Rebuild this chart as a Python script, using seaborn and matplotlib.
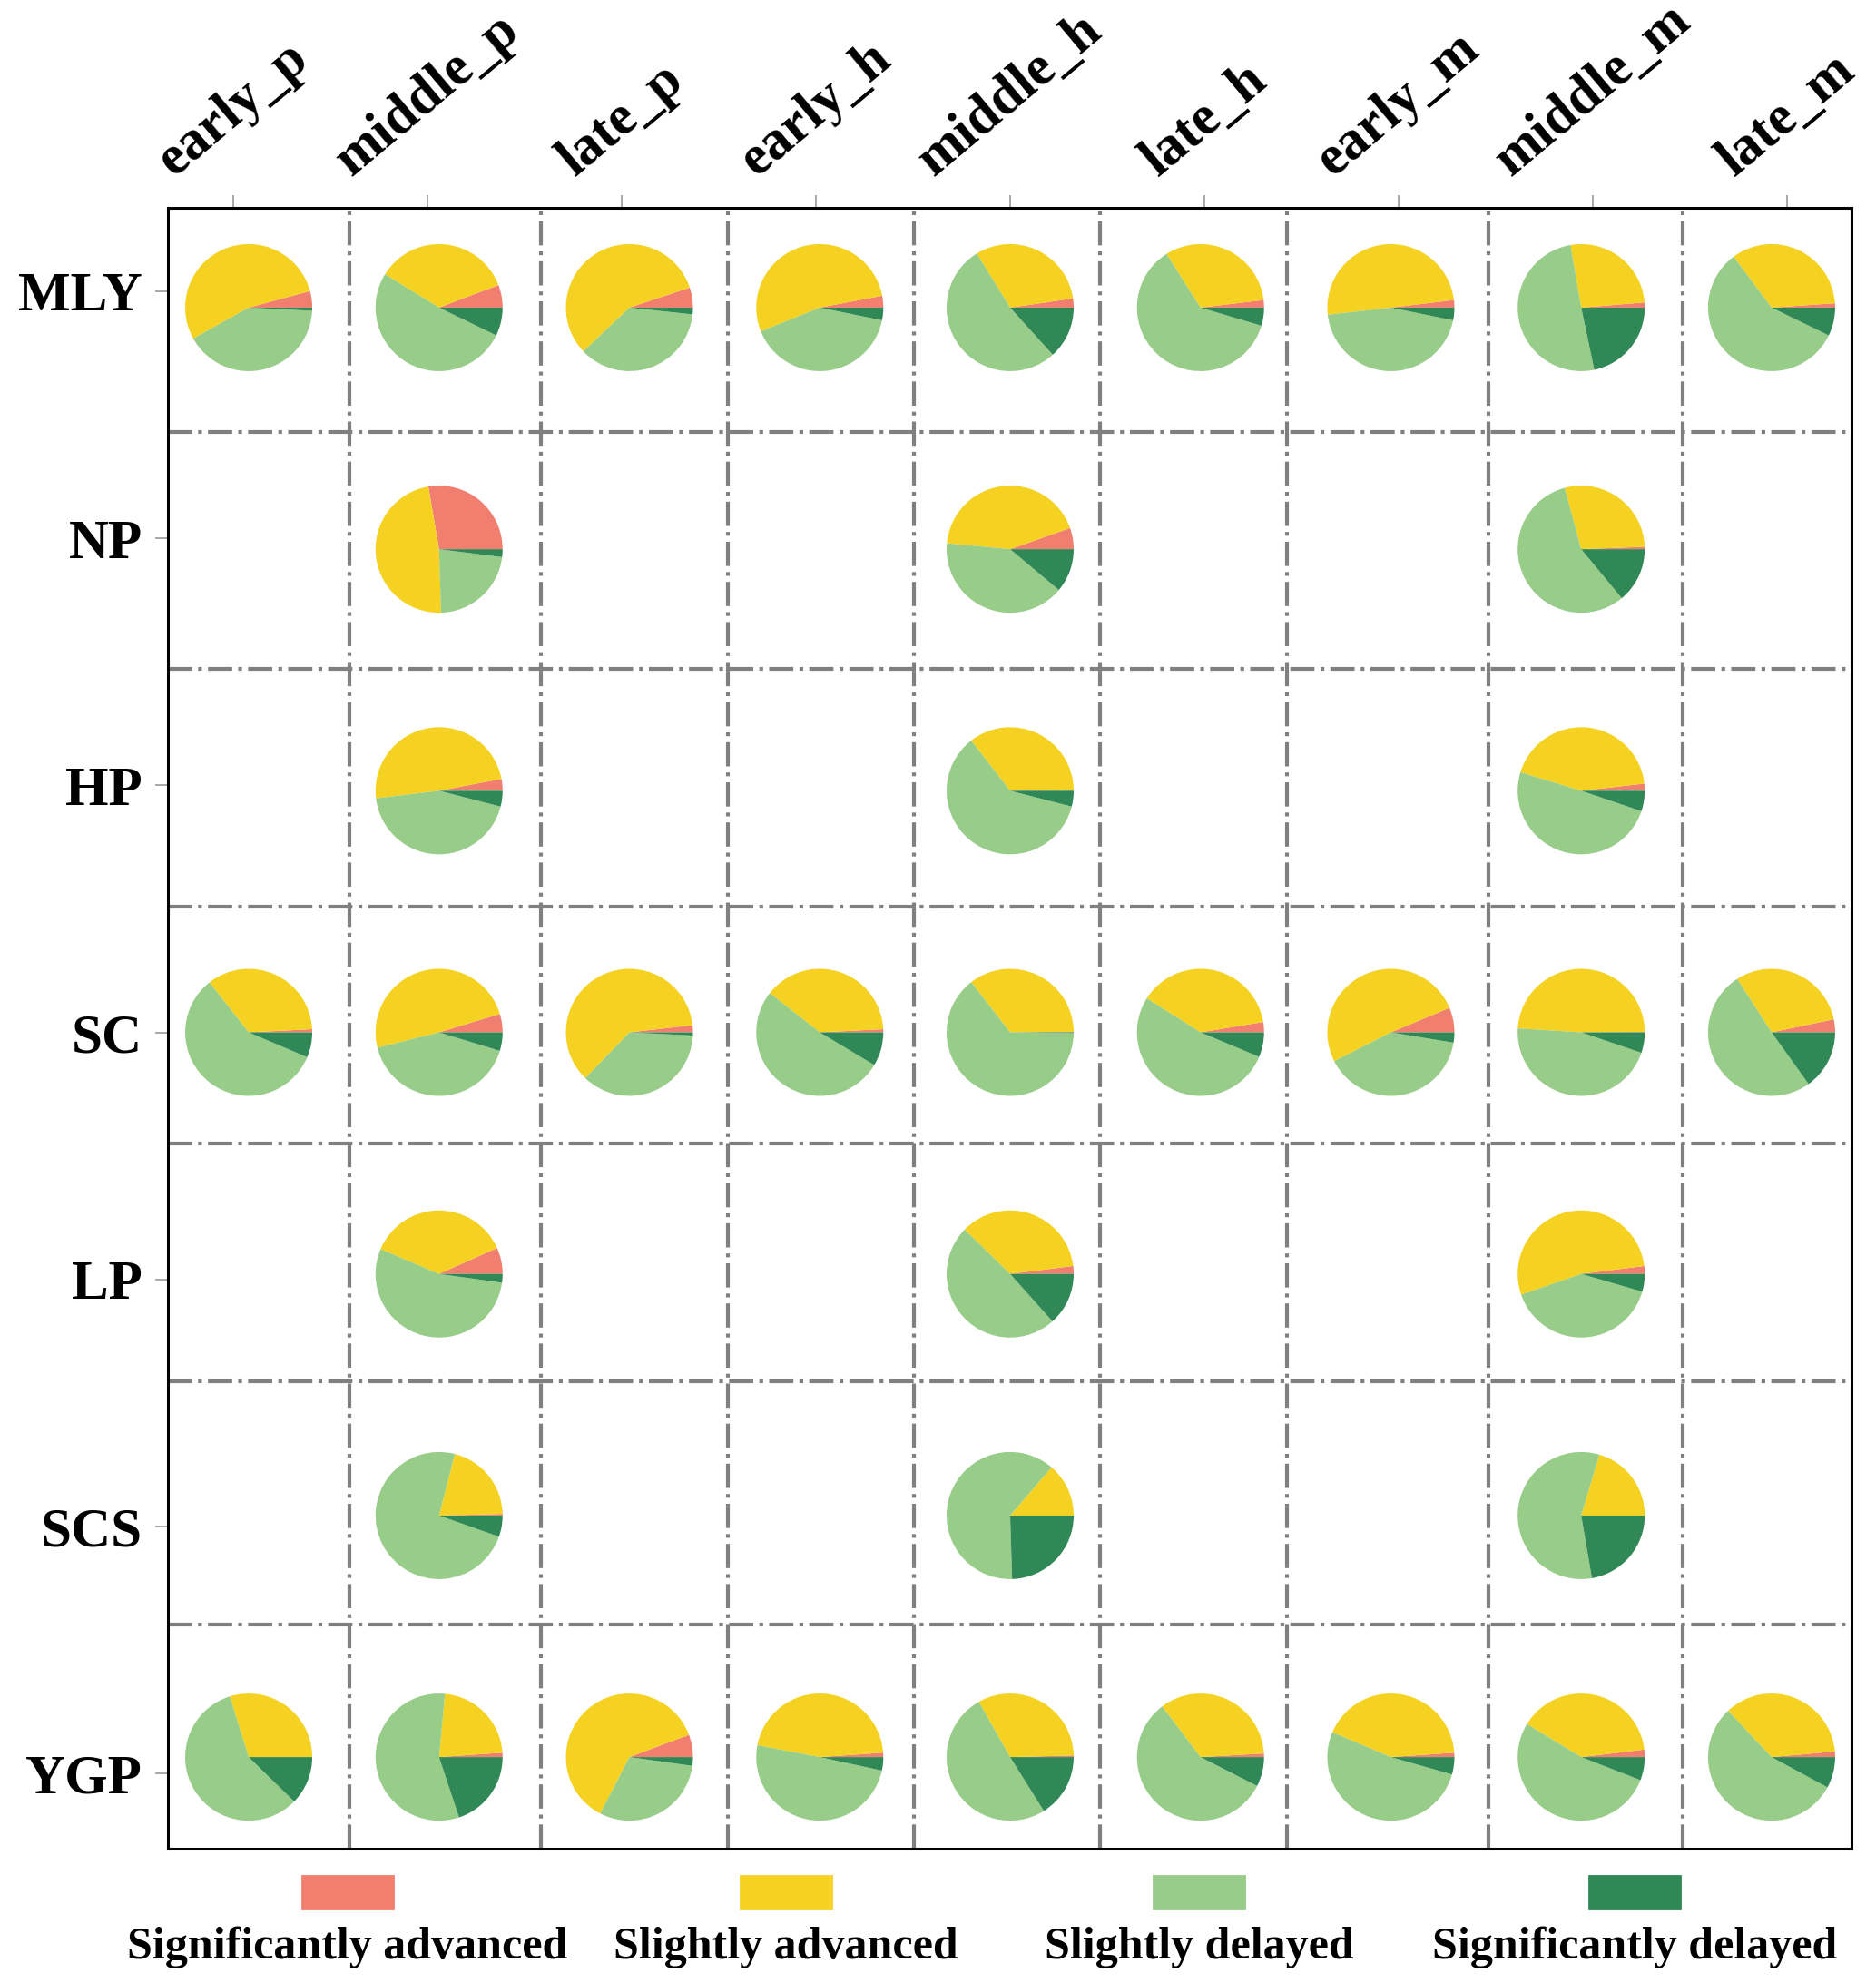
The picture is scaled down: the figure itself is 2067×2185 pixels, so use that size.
import matplotlib
matplotlib.use('Agg')
import matplotlib.pyplot as plt
from matplotlib.patches import Rectangle
import seaborn as sns

# columns / rows of the grid
periods = ['early_p', 'middle_p', 'late_p', 'early_h', 'middle_h',
           'late_h', 'early_m', 'middle_m', 'late_m']
regions = ['MLY', 'NP', 'HP', 'SC', 'LP', 'SCS', 'YGP']
categories = ['Significantly advanced', 'Slightly advanced',
              'Slightly delayed', 'Significantly delayed']
colors = ['#F17F70', '#F5D221', '#98CC89', '#2F8855']

# share (%) of each class, one row per region, None = no pie
sig_adv = [
    [4.2, 5.8, 5.1, 3.0, 2.3, 1.9, 1.9, 1.3, 1.1],
    [None, 27.7, None, None, 5.4, None, None, 0.6, None],
    [None, 3.0, None, None, 0.3, None, None, 1.8, None],
    [0.8, 4.7, 1.8, 0.8, 0.1, 2.6, 6.3, 0.1, 3.3],
    [None, 6.7, None, None, 2.0, None, None, 2.0, None],
    [None, 0.4, None, None, 0.0, None, None, 0.0, None],
    [0.0, 1.1, 5.7, 1.1, 0.4, 0.9, 1.1, 1.9, 1.4],
]
slight_adv = [
    [53.9, 35.4, 57.0, 53.1, 31.5, 32.1, 49.9, 26.4, 34.1],
    [None, 47.8, None, None, 43.1, None, None, 28.6, None],
    [None, 48.9, None, None, 35.2, None, None, 43.5, None],
    [34.8, 49.2, 61.0, 38.6, 35.4, 38.4, 51.2, 48.9, 30.8],
    [None, 36.9, None, None, 35.7, None, None, 53.3, None],
    [None, 20.6, None, None, 13.7, None, None, 20.4, None],
    [29.8, 22.4, 61.7, 45.9, 32.8, 34.4, 42.5, 39.4, 35.6],
]
slight_del = [
    [41.1, 51.6, 36.2, 40.7, 52.9, 61.4, 45.0, 50.6, 57.6],
    [None, 22.5, None, None, 40.4, None, None, 56.8, None],
    [None, 44.1, None, None, 60.5, None, None, 49.5, None],
    [58.0, 41.4, 36.4, 52.0, 64.3, 52.7, 39.9, 45.8, 50.8],
    [None, 54.2, None, None, 48.9, None, None, 40.2, None],
    [None, 73.6, None, None, 61.8, None, None, 57.3, None],
    [57.9, 56.6, 30.4, 49.6, 50.7, 57.2, 52.0, 52.8, 55.1],
]
sig_del = [
    [0.8, 7.2, 1.7, 3.2, 13.3, 4.6, 3.2, 21.7, 7.2],
    [None, 2.0, None, None, 11.1, None, None, 14.0, None],
    [None, 4.0, None, None, 4.0, None, None, 5.2, None],
    [6.4, 4.7, 0.8, 8.6, 0.2, 6.3, 2.6, 5.2, 15.1],
    [None, 2.2, None, None, 13.4, None, None, 4.5, None],
    [None, 5.4, None, None, 24.5, None, None, 22.3, None],
    [12.3, 19.9, 2.2, 3.4, 16.1, 7.5, 4.4, 5.9, 7.9],
]

# separators between the cells (data units)
col_seps = [0.599, 1.585, 2.547, 3.505, 4.463, 5.426, 6.463, 7.463]
row_seps = [0.569, 1.528, 2.491, 3.450, 4.412, 5.397]

sns.set_style('white')
plt.rcParams['font.family'] = ['Liberation Serif', 'DejaVu Serif']
plt.rcParams['font.weight'] = 'bold'
plt.rcParams['text.color'] = 'black'

fig = plt.figure(figsize=(10.335, 10.925), dpi=200)
ax = fig.add_axes([0.0895, 0.0677, 0.8975, 0.8275])
ax.set_xlim(-0.336, 8.332)
ax.set_ylim(6.305, -0.338)

for x in col_seps:
    ax.axvline(x, color='#808080', ls='-.', lw=1.5, zorder=1)
for y in row_seps:
    ax.axhline(y, color='#808080', ls='-.', lw=1.5, zorder=1)

ax.xaxis.tick_top()
ax.set_xticks(range(len(periods)))
ax.set_xticklabels(periods, rotation=40, fontsize=22, fontweight='bold')
ax.set_yticks(range(len(regions)))
ax.set_yticklabels(regions, fontsize=22, fontweight='bold')
ax.tick_params(axis='x', top=True, bottom=False, length=5, width=0.6,
               color='#999999', labelcolor='black', pad=3.5)
ax.tick_params(axis='y', left=True, length=5, width=0.6,
               color='#999999', labelcolor='black', pad=5)
for sp in ax.spines.values():
    sp.set_visible(True)
    sp.set_color('black')
    sp.set_linewidth(1.1)

# pies sit on a slightly shrunk grid around the central cell
to_axes = ax.transData + ax.transAxes.inverted()
pw, ph = 140 / 1855, 140 / 1808
for j, region in enumerate(regions):
    for i, period in enumerate(periods):
        if sig_adv[j][i] is None:
            continue
        vals = [sig_adv[j][i], slight_adv[j][i], slight_del[j][i], sig_del[j][i]]
        cx = 4 + 0.98 * (i - 4)
        cy = 3 + 0.978 * (j - 3)
        fx, fy = to_axes.transform((cx, cy))
        pax = ax.inset_axes([fx - pw / 2, fy - ph / 2, pw, ph])
        pax.pie(vals, colors=colors, startangle=0, counterclock=True,
                wedgeprops={'linewidth': 0})
        pax.set_xlim(-1, 1)
        pax.set_ylim(-1, 1)

# legend: colour swatch with the label underneath
leg_x = [383 / 2067, 866 / 2067, 1321 / 2067, 1801 / 2067]
for xc, lab, col in zip(leg_x, categories, colors):
    fig.patches.append(Rectangle((xc - 0.024, 1 - 2103 / 2185), 0.048, 36 / 2185,
                                 transform=fig.transFigure, color=col))
    fig.text(xc, 1 - 2158 / 2185, lab, ha='center', va='baseline',
             fontsize=18, fontweight='bold', color='black')

fig.savefig('out.png', dpi=200)
